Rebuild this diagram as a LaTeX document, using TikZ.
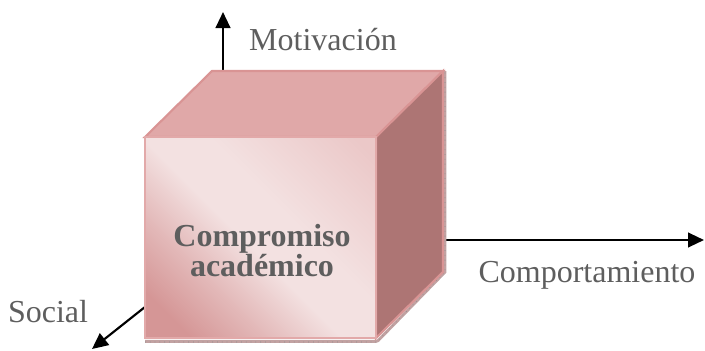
\documentclass[tikz,border=0pt]{standalone}
\usepackage{fontspec}
\setmainfont{Liberation Serif}
\usetikzlibrary{arrows.meta}
\definecolor{txt}{HTML}{5E5E5E}
\definecolor{topf}{HTML}{E0A8A8}
\definecolor{sidef}{HTML}{AD7574}
\definecolor{edge}{HTML}{D99494}
\definecolor{frontedge}{HTML}{E2A9A9}
\definecolor{fdark}{HTML}{D59696}
\definecolor{flight}{HTML}{F3E1E1}
\definecolor{fmid}{HTML}{EBC8C8}
\definecolor{shadowc}{HTML}{C2A2A2}
\pgfdeclareverticalshading{frontsh}{100bp}{color(0bp)=(fdark); color(22bp)=(fdark); color(34bp)=(fdark!55!flight); color(47bp)=(flight); color(58bp)=(flight); color(82bp)=(fmid); color(100bp)=(fmid)}
\tikzset{
  axisarrow/.style={line width=1.6pt, black, -{Triangle[length=12pt,width=11pt]}},
  label/.style={text=txt, font=\fontsize{24}{28}\selectfont, inner sep=0pt},
  face/.style={line width=1.6pt, line join=miter},
}
\begin{document}
\begin{tikzpicture}[x=0.75pt,y=-0.75pt]
\useasboundingbox (0,0) rectangle (705,350);
% cube corners
\coordinate (ftl) at (145,137);
\coordinate (ftr) at (376,137);
\coordinate (fbl) at (145,338);
\coordinate (fbr) at (376,338);
\coordinate (btl) at (212,71);
\coordinate (btr) at (443,71);
\coordinate (bbr) at (443,272);
% arrow endpoints
\coordinate (upstart) at (223,71);
\coordinate (uptip) at (223,12);
\coordinate (rstart) at (443,240);
\coordinate (rtip) at (704,240);
\coordinate (sstart) at (150,303);
\coordinate (stip) at (92,349);
% arrows
\draw[axisarrow] (upstart) -- (uptip);
\draw[axisarrow] (rstart) -- (rtip);
\draw[axisarrow] (sstart) -- (stip);
% shadow strip
\draw[shadowc, line width=2.2pt] ([yshift=-2.5]fbl) -- ([yshift=-2.5]fbr) -- ([xshift=1.5, yshift=-2]fbr) -- ([xshift=1.5]bbr) -- ([xshift=1.5]btr);
\draw[black!45, line width=0.4pt, dash pattern=on 0.6pt off 3pt] ([yshift=-3]fbl) -- ([yshift=-3]fbr) -- ([xshift=1.5,yshift=-2]fbr) -- ([xshift=1.5]bbr) -- ([xshift=1.5]btr);
% faces
\filldraw[face, fill=topf, draw=edge] (ftl) -- (btl) -- (btr) -- (ftr) -- cycle;
\filldraw[face, fill=sidef, draw=edge] (ftr) -- (btr) -- (bbr) -- (fbr) -- cycle;
\shade[shading=frontsh, shading angle=-45] (ftl) rectangle (fbr);
\draw[face, draw=frontedge] (ftl) rectangle (fbr);
% texts
\node[label, anchor=base] (mot) at (323,50) {Motivación};
\node[label, anchor=base] (comp) at (587,282) {Comportamiento};
\node[label, anchor=base] (soc) at (48,322) {Social};
\node[text=txt, font=\fontsize{24}{22.5}\selectfont\bfseries, align=center, inner sep=0pt] (ca) at (262,251) {Compromiso\\académico};
\end{tikzpicture}
\end{document}
